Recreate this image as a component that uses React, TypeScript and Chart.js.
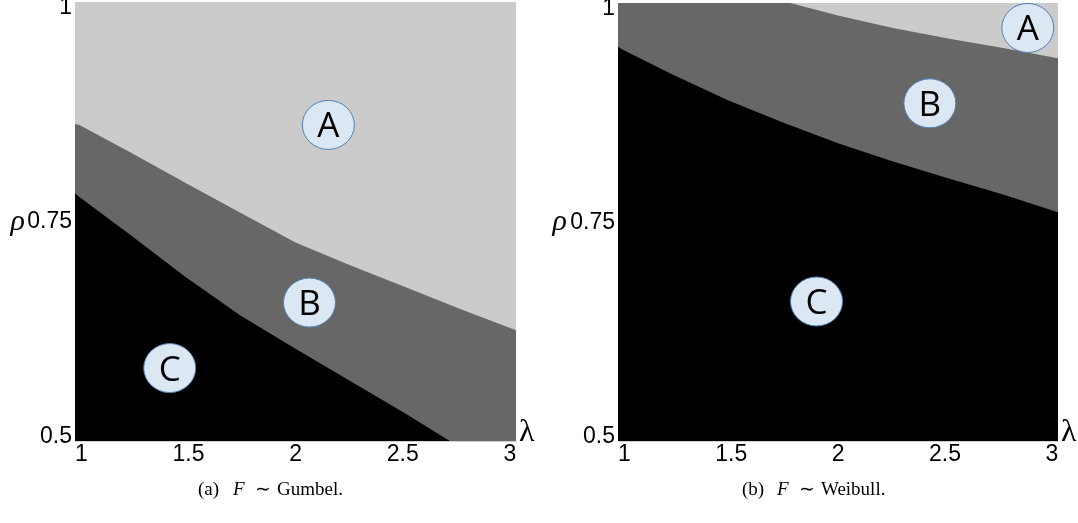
import React, { useEffect, useRef } from "react";
import { Chart, registerables } from "chart.js";

Chart.register(...registerables);

// ---------- data ----------
const LAMBDA_TICKS = [1, 1.5, 2, 2.5, 3];
const RHO_TICKS = [0.5, 0.75, 1];

// Gumbel panel: boundary A/B and B/C
const gumbelLambdaAB = [1, 1.02, 1.25, 1.5, 1.75, 2.0, 2.25, 2.5, 2.75, 3];
const gumbelRhoAB = [0.861, 0.86, 0.829, 0.794, 0.76, 0.726, 0.7, 0.675, 0.65, 0.626];
const gumbelLambdaBC = [1, 1.02, 1.25, 1.5, 1.75, 2.0, 2.25, 2.5, 2.7];
const gumbelRhoBC = [0.782, 0.778, 0.735, 0.687, 0.643, 0.605, 0.568, 0.531, 0.5];

// Weibull panel: boundary A/B and B/C
const weibullLambdaAB = [1.783, 2.0, 2.25, 2.5, 2.75, 3];
const weibullRhoAB = [1.0, 0.9857, 0.9714, 0.9596, 0.9486, 0.937];
const weibullLambdaBC = [1, 1.02, 1.25, 1.5, 1.75, 2.0, 2.25, 2.5, 2.75, 3];
const weibullRhoBC = [0.95, 0.947, 0.918, 0.889, 0.8635, 0.84, 0.819, 0.8, 0.7815, 0.761];

// region labels
const MARK_TEXT = ["A", "B", "C"];
const gumbelMarkLambda = [2.149, 2.0635, 1.4295];
const gumbelMarkRho = [0.86, 0.6577, 0.5831];
const weibullMarkLambda = [2.8626, 2.4175, 1.9024];
const weibullMarkRho = [0.9715, 0.8855, 0.6593];

const CAPTION_A = ["(a)", "F", "∼", "Gumbel."];
const CAPTION_B = ["(b)", "F", "∼", "Weibull."];

// ---------- styles ----------
const SANS = '"Liberation Sans", Arial, sans-serif';
const SERIF = '"Liberation Serif", "Times New Roman", serif';
const MARK_FONT = '"Open Sans", "Noto Sans", sans-serif';
const COLOR_A = "#cbcbcb";
const COLOR_B = "#676767";
const COLOR_C = "#000000";

const CANVAS_W = 539;
const CANVAS_H = 523;
const CAPTION_OFFSETS = [0, 35, 57, 79];

type PanelDef = {
  left: number;
  yAxisWidth: number;
  padRight: number;
  padTop: number;
  abL: number[];
  abR: number[];
  bcL: number[];
  bcR: number[];
  markL: number[];
  markR: number[];
  caption: string[];
  captionX: number;
  rhoGap: number;
};

const PANELS: PanelDef[] = [
  {
    left: 0,
    yAxisWidth: 75,
    padRight: 23,
    padTop: 2,
    abL: gumbelLambdaAB,
    abR: gumbelRhoAB,
    bcL: gumbelLambdaBC,
    bcR: gumbelRhoBC,
    markL: gumbelMarkLambda,
    markR: gumbelMarkRho,
    caption: CAPTION_A,
    captionX: 198,
    rhoGap: 50,
  },
  {
    left: 539,
    yAxisWidth: 79,
    padRight: 20,
    padTop: 3,
    abL: weibullLambdaAB,
    abR: weibullRhoAB,
    bcL: weibullLambdaBC,
    bcR: weibullRhoBC,
    markL: weibullMarkLambda,
    markR: weibullMarkRho,
    caption: CAPTION_B,
    captionX: 203,
    rhoGap: 51,
  },
];

const textPlugin = {
  id: "panelText",
  afterDraw(chart: any, _args: any, opts: any) {
    const { ctx, chartArea, scales } = chart;
    const xs = scales.x;
    const ys = scales.y;
    const yl = scales.yLab;
    ctx.save();
    ctx.fillStyle = "#000";

    // axis symbols
    ctx.font = `italic 30px ${SERIF}`;
    ctx.textAlign = "right";
    ctx.textBaseline = "alphabetic";
    ctx.fillText("ρ", chartArea.left - opts.rhoGap, yl.getPixelForValue(0.75) + 7.5);
    ctx.font = `32px ${SERIF}`;
    ctx.textAlign = "left";
    ctx.fillText("λ", chartArea.right + 3, chartArea.bottom);

    // region marks
    const markL: number[] = opts.markL;
    const markR: number[] = opts.markR;
    MARK_TEXT.forEach((t, i) => {
      const cx = xs.getPixelForValue(markL[i]);
      const cy = ys.getPixelForValue(markR[i]);
      ctx.beginPath();
      ctx.ellipse(cx, cy, 26, 24.5, 0, 0, Math.PI * 2);
      ctx.fillStyle = "#dce7f4";
      ctx.fill();
      ctx.lineWidth = 1;
      ctx.strokeStyle = "#4f7fb3";
      ctx.stroke();
      ctx.fillStyle = "#000";
      ctx.font = `35px ${MARK_FONT}`;
      ctx.textAlign = "center";
      ctx.textBaseline = "alphabetic";
      ctx.fillText(t, cx, cy + 12.5);
    });

    // caption
    const cap: string[] = opts.caption;
    const x0 = opts.captionX;
    const base = 495;
    ctx.textAlign = "left";
    ctx.textBaseline = "alphabetic";
    ctx.fillStyle = "#000";
    const normal = `19px ${SERIF}`;
    const italic = `italic 19px ${SERIF}`;
    cap.forEach((t, i) => {
      ctx.font = i === 1 ? italic : normal;
      ctx.fillText(t, x0 + CAPTION_OFFSETS[i], base);
    });

    ctx.restore();
  },
};

function buildChart(canvas: HTMLCanvasElement, p: PanelDef) {
  const pts = (ls: number[], rs: number[]) => ls.map((l, i) => ({ x: l, y: rs[i] }));
  const base = {
    borderWidth: 1,
    borderColor: "rgba(0,0,0,0)",
    pointRadius: 0,
    tension: 0,
  };
  return new Chart(canvas, {
    type: "line",
    data: {
      datasets: [
        {
          ...base,
          label: "C",
          data: pts(p.bcL, p.bcR),
          fill: "start",
          backgroundColor: COLOR_C,
          order: 1,
        },
        {
          ...base,
          label: "A",
          data: pts(p.abL, p.abR),
          fill: "end",
          backgroundColor: COLOR_A,
          order: 2,
        },
        {
          ...base,
          label: "B",
          data: pts([LAMBDA_TICKS[0], LAMBDA_TICKS[LAMBDA_TICKS.length - 1]], [RHO_TICKS[2], RHO_TICKS[2]]),
          fill: "start",
          backgroundColor: COLOR_B,
          order: 3,
        },
      ],
    } as any,
    options: {
      animation: false,
      responsive: false,
      devicePixelRatio: 1,
      events: [],
      layout: { padding: { left: 0, right: p.padRight, top: p.padTop, bottom: 0 } },
      plugins: {
        legend: { display: false },
        tooltip: { enabled: false },
        panelText: {
          markL: p.markL,
          markR: p.markR,
          caption: p.caption,
          captionX: p.captionX,
          rhoGap: p.rhoGap,
        },
      } as any,
      scales: {
        x: { type: "linear", min: 1, max: 3, display: false },
        y: { type: "linear", min: 0.5, max: 1, display: false },
        xLab: {
          type: "linear",
          position: "bottom",
          axis: "x",
          min: 0.9706,
          max: 3.0284,
          afterBuildTicks: (s: any) => {
            s.ticks = LAMBDA_TICKS.map((v) => ({ value: v }));
          },
          afterFit: (s: any) => {
            s.height = 82;
            s.paddingLeft = 0;
            s.paddingRight = 0;
          },
          grid: { display: false, drawTicks: false },
          border: { display: true, color: "#d0d0d0", width: 1 },
          ticks: {
            autoSkip: false,
            maxRotation: 0,
            minRotation: 0,
            padding: 0,
            color: "#000",
            font: { family: SANS, size: 23 },
            callback: (v: any) => String(v),
          },
        },
        yLab: {
          type: "linear",
          position: "left",
          axis: "y",
          min: 0.49439,
          max: 1.00713,
          afterBuildTicks: (s: any) => {
            s.ticks = RHO_TICKS.map((v) => ({ value: v }));
          },
          afterFit: (s: any) => {
            s.width = p.yAxisWidth;
            s.paddingTop = 0;
            s.paddingBottom = 0;
          },
          grid: { display: false, drawTicks: false },
          border: { display: false },
          ticks: {
            autoSkip: false,
            padding: 3,
            color: "#000",
            font: { family: SANS, size: 23 },
            callback: (v: any) => String(v),
          },
        },
      } as any,
    },
    plugins: [textPlugin],
  } as any);
}

function Panel({ p }: { p: PanelDef }) {
  const ref = useRef<HTMLCanvasElement | null>(null);
  useEffect(() => {
    if (!ref.current) return;
    const chart = buildChart(ref.current, p);
    return () => chart.destroy();
  }, [p]);
  return (
    <canvas
      ref={ref}
      width={CANVAS_W}
      height={CANVAS_H}
      style={{ position: "absolute", left: p.left, top: 0, width: CANVAS_W, height: CANVAS_H }}
    />
  );
}

export default function App() {
  return (
    <div style={{ position: "absolute", left: 0, top: 0, width: 1078, height: 523, background: "#fff" }}>
      {PANELS.map((p, i) => (
        <Panel key={i} p={p} />
      ))}
    </div>
  );
}
